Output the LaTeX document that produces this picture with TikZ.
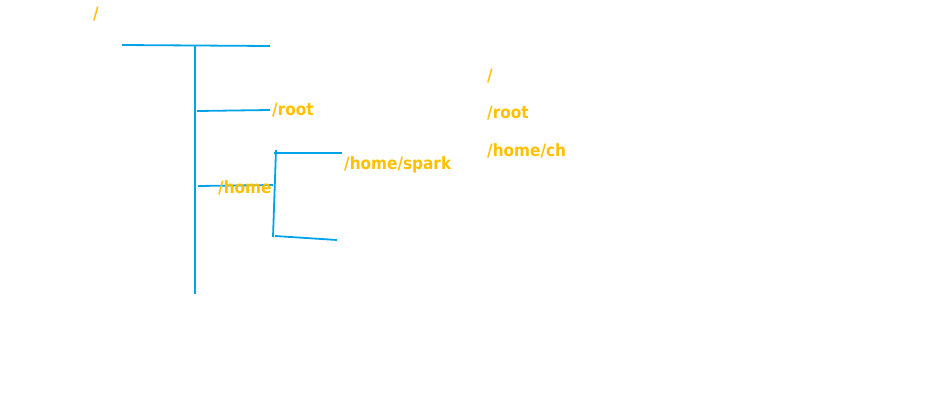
\documentclass[tikz,border=0pt]{standalone}
\usepackage{fontspec}
\setmainfont{DejaVu Sans Condensed}
\definecolor{treeblue}{RGB}{0,162,232}
\definecolor{pathyellow}{RGB}{255,192,0}
\tikzset{
  branch/.style={draw=treeblue, line width=1.8pt},
  pathlabel/.style={text=pathyellow, font=\bfseries\fontsize{17}{20}\selectfont, inner sep=0pt, anchor=base west}
}
\begin{document}
\begin{tikzpicture}[x=1pt, y=-1pt]
	\useasboundingbox (0,0) rectangle (948,405);
	% tree lines
	\coordinate (topL) at (122,45);
	\coordinate (topR) at (270,46);
	\coordinate (trunkTop) at (195,46);
	\coordinate (trunkBot) at (195,294);
	\coordinate (rootL) at (197,111);
	\coordinate (rootR) at (270,110);
	\coordinate (homeL) at (198,186);
	\coordinate (homeR) at (273,185);
	\coordinate (subTop) at (276,150);
	\coordinate (subBot) at (273,237);
	\coordinate (sparkL) at (274,153);
	\coordinate (sparkR) at (342,153);
	\coordinate (otherL) at (275,236);
	\coordinate (otherR) at (337,240);
	\draw[branch] (topL) -- (topR);
	\draw[branch] (trunkTop) -- (trunkBot);
	\draw[branch] (rootL) -- (rootR);
	\draw[branch] (homeL) -- (homeR);
	\draw[branch] (subTop) -- (subBot);
	\draw[branch] (sparkL) -- (sparkR);
	\draw[branch] (otherL) -- (otherR);
	% labels
	\node[pathlabel] (lblTop)   at (93,19)   {/};
	\node[pathlabel] (lblRoot)  at (272,115) {/root};
	\node[pathlabel] (lblHome)  at (218,193) {/home};
	\node[pathlabel] (lblSpark) at (344,169) {/home/spark};
	\node[pathlabel] (lstSlash) at (487,81)  {/};
	\node[pathlabel] (lstRoot)  at (487,118) {/root};
	\node[pathlabel] (lstCh)    at (487,156) {/home/ch};
\end{tikzpicture}
\end{document}
